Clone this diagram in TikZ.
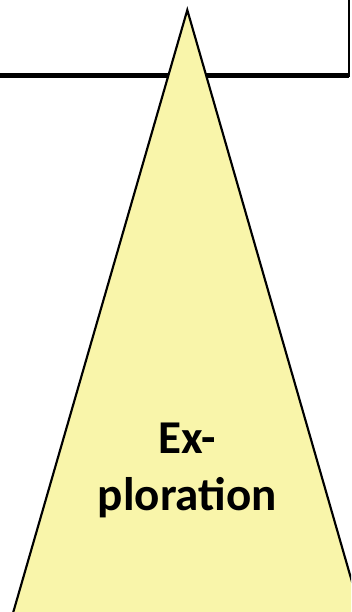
\documentclass[tikz,border=0pt]{standalone}
\usepackage{fontspec}
\setmainfont{Carlito}
\usepackage{tikz}
\usetikzlibrary{positioning}

\definecolor{coneyellow}{HTML}{F9F5AA}

\begin{document}
\begin{tikzpicture}[
    x=0.75pt, y=-0.75pt,
    frame/.style={draw=black, line width=2pt, fill=white},
    frameedge/.style={draw=black, line width=3.8pt},
    cone/.style={draw=black, line width=1.6pt, fill=coneyellow, line join=miter},
    conelabel/.style={font=\fontsize{35.3}{42}\selectfont\bfseries, inner sep=0pt, anchor=base}
  ]
    \useasboundingbox (0,0) rectangle (351,612);
    \clip (0,0) rectangle (351,612);

    % box at the top, cut by the page
    \draw[frame] (-20,-20) rectangle (349,75.5);
    \draw[frameedge] (-20,75.5) -- (349,75.5);

    % the cone
    \draw[cone] (187.3,10) -- (363,620) -- (11,620) -- cycle;

    \node[conelabel] (exA) at (187.5,453) {Ex-};
    \node[conelabel] (exB) at (187.3,510) {ploration};
  \end{tikzpicture}
\end{document}
